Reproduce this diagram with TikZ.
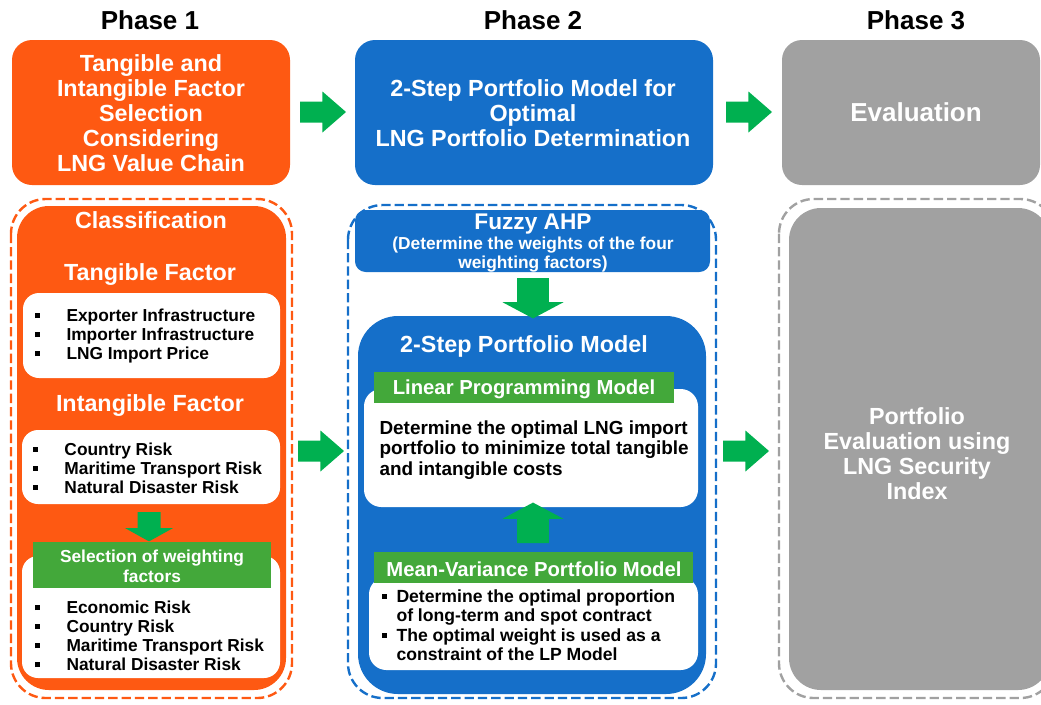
\documentclass[tikz,border=0pt]{standalone}
\usepackage{fontspec}
\setmainfont{Liberation Sans}
\usetikzlibrary{shapes.arrows}

\definecolor{lngorange}{RGB}{254,89,18}
\definecolor{lngblue}{RGB}{21,111,201}
\definecolor{lnggray}{RGB}{161,161,161}
\definecolor{arrowgreen}{RGB}{0,176,80}
\definecolor{bandgreen}{RGB}{67,168,58}

\newcommand{\sqb}[1]{\makebox[#1][l]{\rule[2.6pt]{3.8pt}{3.8pt}}}

\tikzset{every picture/.style={line width=0.75pt}}

\begin{document}
\begin{tikzpicture}[x=0.75pt,y=0.75pt,yscale=-1,xscale=1,
  phase/.style={font=\fontsize{19.5}{22}\selectfont\bfseries, inner sep=0.75pt},
  bigtxt/.style={font=\fontsize{17.5}{18.75}\selectfont\bfseries, text=white, align=center, inner sep=0.75pt},
  listtxt/.style={font=\fontsize{13}{14.25}\selectfont\bfseries, align=left, inner sep=0.75pt},
  bandtxt/.style={font=\fontsize{13}{15}\selectfont\bfseries, text=white, align=center, inner sep=0.75pt},
  subtxt/.style={font=\fontsize{15.2}{17}\selectfont\bfseries, text=white, inner sep=0.75pt},
  garrow/.style={single arrow, fill=arrowgreen, draw=none, outer sep=0pt, single arrow head indent=0pt},
  rarrow/.style={garrow, inner sep=7.5pt, minimum height=34.5pt, single arrow head extend=7.5pt, single arrow tip angle=82, anchor=tail},
  dashframe/.style={line width=1.8pt, dash pattern=on 7pt off 3pt, rounded corners=26pt}
]
\useasboundingbox (0,0) rectangle (1041,704);

% Phase titles
\node[phase] (ph1) at (150,20) {Phase 1};
\node[phase] (ph2) at (533,20) {Phase 2};
\node[phase] (ph3) at (916,20) {Phase 3};

%Rounded Rect phase 1 top
\fill[lngorange, rounded corners=15pt] (12,40) rectangle (290,185);
%Rounded Rect phase 2 top
\fill[lngblue, rounded corners=15pt] (355,40) rectangle (713,185);
%Rounded Rect phase 3 top
\fill[lnggray, rounded corners=15pt] (782,40) rectangle (1040,185);

% Text Node
\node[bigtxt] (selfac) at (151,113) {Tangible and\\Intangible Factor\\Selection\\Considering\\LNG Value Chain};
% Text Node
\node[bigtxt] (twostep) at (533,113) {2-Step Portfolio Model for\\Optimal\\LNG Portfolio Determination};
% Text Node
\node[bigtxt, font=\fontsize{19.5}{22}\selectfont\bfseries] (evaltop) at (916,112) {Evaluation};

%Right Arrows
\node[rarrow] (ar1) at (300,112) {};
\node[rarrow] (ar2) at (726,112) {};
\node[rarrow] (ar3) at (298,451) {};
\node[rarrow] (ar4) at (723,451) {};

%Phase 1 bottom
\draw[lngorange, dashframe] (11,199) rectangle (292,698);
\fill[lngorange, rounded corners=24pt] (17,206) rectangle (286,690);
\fill[white, rounded corners=12pt] (23,293) rectangle (280,378);
\fill[white, rounded corners=12pt] (22,430) rectangle (280,504);
\fill[white, rounded corners=12pt] (22,556) rectangle (280,678);
\fill[bandgreen] (33,542) rectangle (271,588);

% Text Node
\node[bigtxt] (classif) at (151,220) {Classification};
\node[bigtxt] (tanghead) at (150,275) {Tangible Factor};
\node[listtxt, anchor=west] (tanglist) at (33,336) {\sqb{24pt}Exporter Infrastructure\\\sqb{24pt}Importer Infrastructure\\\sqb{24pt}LNG Import Price};
\node[bigtxt] (intghead) at (150,406) {Intangible Factor};
\node[listtxt, anchor=west] (intglist) at (31,468) {\sqb{24pt}Country Risk\\\sqb{24pt}Maritime Transport Risk\\\sqb{24pt}Natural Disaster Risk};
\node[bandtxt] (weightsel) at (152,566) {Selection of weighting\\factors};
\node[listtxt, anchor=west] (weightlist) at (33,636) {\sqb{24pt}Economic Risk\\\sqb{24pt}Country Risk\\\sqb{24pt}Maritime Transport Risk\\\sqb{24pt}Natural Disaster Risk};

%Down Arrow
\node[garrow, anchor=tail, shape border rotate=270, inner sep=8.25pt, minimum height=18.75pt, single arrow head extend=9.4pt, single arrow tip angle=122] (ard1) at (149,512) {};

%Phase 2 bottom
\draw[lngblue, dashframe] (348,205) rectangle (716,698);
\fill[lngblue, rounded corners=8pt] (355,210) rectangle (710,272);
\fill[lngblue, rounded corners=30pt] (358,316) rectangle (706,694);
\fill[white, rounded corners=13pt] (364,389) rectangle (698,507);
\fill[bandgreen] (374,372) rectangle (674,403);
\fill[white, rounded corners=13pt] (369,577) rectangle (698,670);
\fill[bandgreen] (374,552) rectangle (693,583);

% Text Node
\node[bigtxt, font=\fontsize{17}{18}\selectfont\bfseries] (fuzzy) at (533,224) {Fuzzy AHP};
\node[bandtxt, font=\fontsize{13}{14.25}\selectfont\bfseries] (fuzzynote) at (533,255) {(Determine the weights of the four\\weighting factors)};
\node[bigtxt] (stepmodel) at (524,346) {2-Step Portfolio Model};
\node[subtxt] (lphead) at (524,389) {Linear Programming Model};
\node[listtxt, font=\fontsize{14.2}{15.4}\selectfont\bfseries, anchor=west] (lptxt) at (378,450) {Determine the optimal LNG import\\portfolio to minimize total tangible\\and intangible costs};
\node[subtxt] (mvhead) at (534,569) {Mean-Variance Portfolio Model};
\node[listtxt, font=\fontsize{13.2}{14.6}\selectfont\bfseries, anchor=west] (mvlist) at (380,625) {\sqb{11.25pt}Determine the optimal proportion\\\hspace*{11.25pt}of long-term and spot contract\\\sqb{11.25pt}The optimal weight is used as a\\\hspace*{11.25pt}constraint of the LP Model};

%Down and Up Arrows
\node[garrow, anchor=tail, shape border rotate=270, inner sep=11.6pt, minimum height=24pt, single arrow head extend=10.9pt, single arrow tip angle=124] (ard2) at (533,278) {};
\node[garrow, anchor=tail, shape border rotate=90, inner sep=11.6pt, minimum height=22.5pt, single arrow head extend=10.9pt, single arrow tip angle=124] (aru1) at (533,543) {};

%Phase 3 bottom
\draw[lnggray, dashframe] (779,199) rectangle (1055,698);
\fill[lnggray, rounded corners=24pt] (789,208) rectangle (1050,690);

% Text Node
\node[bigtxt] (evalidx) at (917,454) {Portfolio\\Evaluation using\\LNG Security\\Index};

\end{tikzpicture}
\end{document}
